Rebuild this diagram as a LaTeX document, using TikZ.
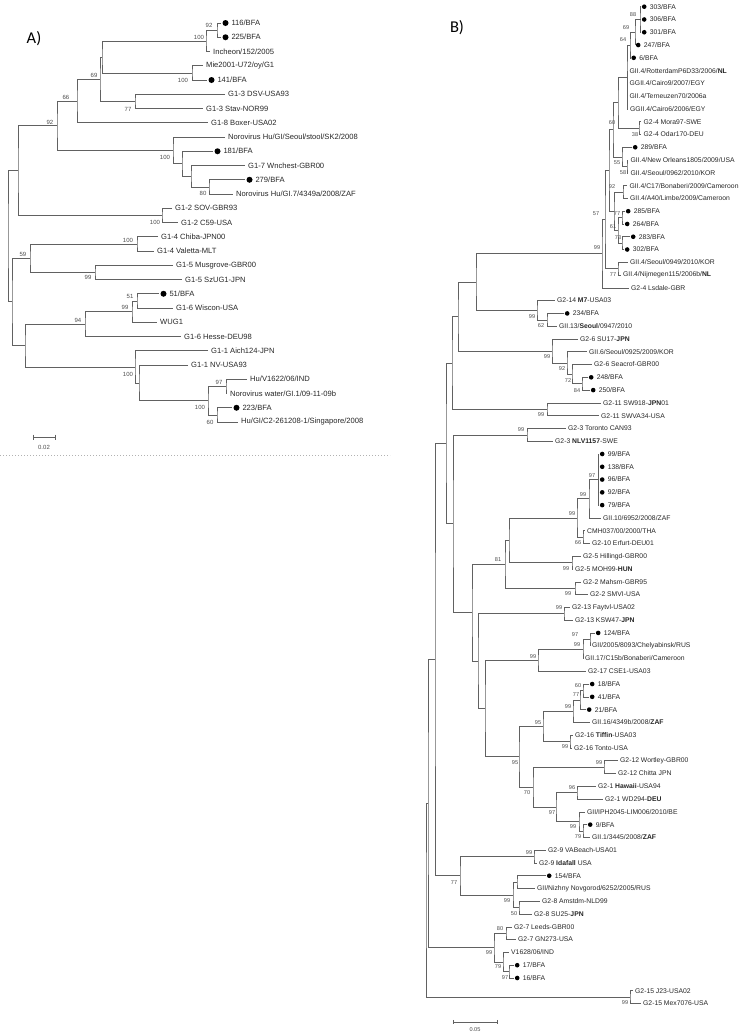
\documentclass[tikz,border=0pt]{standalone}
\usepackage{fontspec}
\setmainfont{Liberation Sans}
\newfontfamily\carlito{Carlito}
\usetikzlibrary{calc}

\newcommand{\fA}{\fontsize{7.6}{8}\selectfont}
\newcommand{\fB}{\fontsize{6.8}{7}\selectfont}
\newcommand{\leaf}[4]{\coordinate (#1) at (#2,#3); \node[lbl] (#1t) at (#1) {#4};}
\newcommand{\bfa}[4]{\coordinate (#1) at (#2,#3); \node[dot] (#1d) at (#1) {}; \node[lbl,dotlbl] (#1t) at (#1d.east) {#4};}
\newcommand{\clade}[4]{\path let \p1=($(#3)!.5!(#4)$) in (#2pt,\y1) coordinate (#1); \draw[br] (#3) -| (#1) |- (#4);}

\tikzset{
  br/.style={draw=black!62, line width=0.55pt},
  panel/.style={font=\carlito\fontsize{16.5}{18}\selectfont, inner sep=0pt},
  sep/.style={draw=black!30, line width=0.5pt, dash pattern=on 1.2pt off 1.8pt}
}

\begin{document}
\begin{tikzpicture}[x=1pt,y=-1pt]
\useasboundingbox (0,0) rectangle (744,1034);

\node[panel] (labA) at (34,38.5) {A)};
\node[panel] (labB) at (457,28) {B)};

\begin{scope}[lbl/.style={anchor=west, inner ysep=0.5pt, inner xsep=3pt, font=\fA, text=black!85},
  dot/.style={circle, fill=black, inner sep=0pt, minimum size=6pt, xshift=4.5pt},
  dotlbl/.style={inner xsep=2.6pt},
  bs/.style={font=\fontsize{6}{6}\selectfont, text=black!70, inner sep=0pt}]
\bfa{A1}{221}{23}{116/BFA}
\bfa{A2}{221}{37.25}{225/BFA}
\leaf{A3}{210}{51.5}{Incheon/152/2005}
\leaf{A4}{203}{65.75}{Mie2001-U72/oy/G1}
\bfa{A5}{207}{80}{141/BFA}
\leaf{A6}{225}{94.25}{G1-3 DSV-USA93}
\leaf{A7}{203}{108.5}{G1-3 Stav-NOR99}
\leaf{A8}{208}{122.75}{G1-8 Boxer-USA02}
\leaf{A9}{225}{137}{Norovirus Hu/GI/Seoul/stool/SK2/2008}
\bfa{A10}{213}{151.25}{181/BFA}
\leaf{A11}{245}{165.5}{G1-7 Wnchest-GBR00}
\bfa{A12}{245}{179.75}{279/BFA}
\leaf{A13}{233}{194}{Norovirus Hu/GI.7/4349a/2008/ZAF}
\leaf{A14}{172}{208.25}{G1-2 SOV-GBR93}
\leaf{A15}{178}{222.5}{G1-2 C59-USA}
\leaf{A16}{158}{236.75}{G1-4 Chiba-JPN00}
\leaf{A17}{154}{251}{G1-4 Valetta-MLT}
\leaf{A18}{173}{265.25}{G1-5 Musgrove-GBR00}
\leaf{A19}{182}{279.5}{G1-5 SzUG1-JPN}
\bfa{A20}{159}{293.75}{51/BFA}
\leaf{A21}{173}{308}{G1-6 Wiscon-USA}
\leaf{A22}{157}{322.25}{WUG1}
\leaf{A23}{181}{336.5}{G1-6 Hesse-DEU98}
\leaf{A24}{208}{350.75}{G1-1 Aich124-JPN}
\leaf{A25}{188}{365}{G1-1 NV-USA93}
\leaf{A26}{247}{379.25}{Hu/V1622/06/IND}
\leaf{A27}{227}{393.5}{Norovirus water/GI.1/09-11-09b}
\bfa{A28}{232}{407.75}{223/BFA}
\leaf{A29}{238}{422}{Hu/GI/C2-261208-1/Singapore/2008}

\clade{n92a}{217}{A1}{A2}
\clade{n100a}{206}{n92a}{A3}
\clade{n100b}{192}{A4}{A5}
\clade{nXa}{102}{n100a}{n100b}
\clade{n77a}{135}{A6}{A7}
\clade{n69a}{100}{nXa}{n77a}
\clade{n66a}{77}{n69a}{A8}
\clade{n80a}{209}{A12}{A13}
\clade{nRa}{191}{A11}{n80a}
\clade{nQa}{182}{A10}{nRa}
\clade{n100c}{173}{A9}{nQa}
\clade{n92b}{57}{n66a}{n100c}
\clade{n100d}{162}{A14}{A15}
\clade{nTopA}{18}{n92b}{n100d}
\clade{n100e}{137}{A16}{A17}
\clade{n99a}{95}{A18}{A19}
\clade{n59a}{30}{n100e}{n99a}
\clade{n51a}{137}{A20}{A21}
\clade{n99b}{132}{n51a}{A22}
\clade{n94a}{85}{n99b}{A23}
\clade{n97a}{226}{A26}{A27}
\clade{n60a}{217}{A28}{A29}
\clade{n100f}{208}{n97a}{n60a}
\clade{nNVa}{139}{A25}{n100f}
\clade{n100g}{135}{A24}{nNVa}
\clade{nLowA}{25}{n94a}{n100g}
\clade{nMidA}{12}{n59a}{nLowA}
\clade{nRootA}{8}{nTopA}{nMidA}

\foreach \x/\y/\v [count=\i] in {209/25/92, 199/37/100, 183/80/100, 94/75/69, 128/109/77,
  66/97/66, 50/122/92, 165/157/100, 203/193/80, 155/222/100, 128/240/100, 23/254/59,
  88/277/99, 130/296/51, 125/307/99, 78/320/94, 128/374/100, 219/382/97, 200/407/100, 210/422/60}
  \node[bs] (sA\i) at (\x,\y) {\v};

\coordinate (scA1) at (33,437);
\coordinate (scA2) at (55,437);
\draw[br] (scA1) -- (scA2);
\draw[br] ([yshift=2.5pt]scA1) -- ([yshift=-2.5pt]scA1);
\draw[br] ([yshift=2.5pt]scA2) -- ([yshift=-2.5pt]scA2);
\node[bs] (scAt) at (44,447) {0.02};
\end{scope}

\coordinate (sepL) at (0,455);
\coordinate (sepR) at (390,455);
\draw[sep] (sepL) -- (sepR);

\begin{scope}[lbl/.style={anchor=west, inner ysep=0.5pt, inner xsep=2.5pt, font=\fB, text=black!85},
  dot/.style={circle, fill=black, inner sep=0pt, minimum size=4.6pt, xshift=3.2pt},
  dotlbl/.style={inner xsep=3pt},
  bs/.style={font=\fontsize{5.6}{6}\selectfont, text=black!70, inner sep=0pt}]
\bfa{B1}{641}{6.7}{303/BFA}
\bfa{B2}{641}{19.48}{306/BFA}
\bfa{B3}{641}{32.26}{301/BFA}
\bfa{B4}{635}{45.04}{247/BFA}
\bfa{B5}{630.5}{57.82}{6/BFA}
\leaf{B6}{627}{70.6}{GII.4/RotterdamP6D33/2006/\textbf{NL}}
\leaf{B7}{627}{83.38}{GGII.4/Cairo9/2007/EGY}
\leaf{B8}{627}{96.16}{GII.4/Terneuzen70/2006a}
\leaf{B9}{627.5}{108.94}{GGII.4/Cairo6/2006/EGY}
\leaf{B10}{641}{121.72}{G2-4 Mora97-SWE}
\leaf{B11}{641}{134.5}{G2-4 Odar170-DEU}
\bfa{B12}{632}{147.28}{289/BFA}
\leaf{B13}{628}{160.06}{GII.4/New Orleans1805/2009/USA}
\leaf{B14}{628}{172.84}{GII.4/Seoul/0962/2010/KOR}
\leaf{B15}{627}{185.62}{GII.4/C17/Bonaberi/2009/Cameroon}
\leaf{B16}{627.5}{198.4}{GII.4/A40/Limbe/2009/Cameroon}
\bfa{B17}{625}{211.18}{285/BFA}
\bfa{B18}{624}{223.96}{264/BFA}
\bfa{B19}{630}{236.74}{283/BFA}
\bfa{B20}{624}{249.52}{302/BFA}
\leaf{B21}{627.5}{262.3}{GII.4/Seoul/0949/2010/KOR}
\leaf{B22}{620.5}{275.08}{GII.4/Nijmegen115/2006b/\textbf{NL}}
\leaf{B23}{628.5}{287.86}{G2-4 Lsdale-GBR}
\leaf{B24}{554.5}{300.64}{G2-14 \textbf{M7}-USA03}
\bfa{B25}{564}{313.42}{234/BFA}
\leaf{B26}{556.5}{326.2}{GII.13/\textbf{Seoul}/0947/2010}
\leaf{B27}{577.5}{338.98}{G2-6 SU17-\textbf{JPN}}
\leaf{B28}{586.5}{351.76}{GII.6/Seoul/0925/2009/KOR}
\leaf{B29}{591.5}{364.54}{G2-6 Seacrof-GBR00}
\bfa{B30}{588}{377.32}{248/BFA}
\bfa{B31}{590}{390.1}{250/BFA}
\leaf{B32}{600.5}{402.88}{G2-11 SW918-\textbf{JPN}01}
\leaf{B33}{598.5}{415.66}{G2-11 SWVA34-USA}
\leaf{B34}{565.5}{428.44}{G2-3 Toronto CAN93}
\leaf{B35}{552.5}{441.22}{G2-3 \textbf{NLV1157}-SWE}
\bfa{B36}{599}{454}{99/BFA}
\bfa{B37}{599}{466.78}{138/BFA}
\bfa{B38}{599}{479.56}{96/BFA}
\bfa{B39}{599}{492.34}{92/BFA}
\bfa{B40}{599}{505.12}{79/BFA}
\leaf{B41}{600.5}{517.9}{GII.10/6952/2008/ZAF}
\leaf{B42}{584.5}{530.68}{CMH037/00/2000/THA}
\leaf{B43}{589.5}{543.46}{G2-10 Erfurt-DEU01}
\leaf{B44}{580.5}{556.24}{G2-5 Hillingd-GBR00}
\leaf{B45}{572.5}{569.02}{G2-5 MOH99-\textbf{HUN}}
\leaf{B46}{580.5}{581.8}{G2-2 Mahsm-GBR95}
\leaf{B47}{587.5}{594.58}{G2-2 SMVI-USA}
\leaf{B48}{569.5}{607.36}{G2-13 Faytvl-USA02}
\leaf{B49}{572.5}{620.14}{G2-13 KSW47-\textbf{JPN}}
\bfa{B50}{595}{632.92}{124/BFA}
\leaf{B51}{589.5}{645.7}{GII/2005/8093/Chelyabinsk/RUS}
\leaf{B52}{582.5}{658.48}{GII.17/C15b/Bonaberi/Cameroon}
\leaf{B53}{585.5}{671.26}{G2-17 CSE1-USA03}
\bfa{B54}{589}{684.04}{18/BFA}
\bfa{B55}{589}{696.82}{41/BFA}
\bfa{B56}{586}{709.6}{21/BFA}
\leaf{B57}{589.5}{722.38}{GII.16/4349b/2008/\textbf{ZAF}}
\leaf{B58}{572.5}{735.16}{G2-16 \textbf{Tiffin}-USA03}
\leaf{B59}{571.5}{747.94}{G2-16 Tonto-USA}
\leaf{B60}{617.5}{760.72}{G2-12 Wortley-GBR00}
\leaf{B61}{615.5}{773.5}{G2-12 Chitta JPN}
\leaf{B62}{595.5}{786.28}{G2-1 \textbf{Hawaii}-USA94}
\leaf{B63}{602.5}{799.06}{G2-1 WD294-\textbf{DEU}}
\leaf{B64}{584.5}{811.84}{GII/IPH2045-LIM006/2010/BE}
\bfa{B65}{587}{824.62}{9/BFA}
\leaf{B66}{589.5}{837.4}{GII.1/3445/2008/\textbf{ZAF}}
\leaf{B67}{545.5}{850.18}{G2-9 VABeach-USA01}
\leaf{B68}{536.5}{862.96}{G2-9 \textbf{Idafall} USA}
\bfa{B69}{546}{875.74}{154/BFA}
\leaf{B70}{534.5}{888.52}{GII/Nizhny Novgorod/6252/2005/RUS}
\leaf{B71}{539.5}{901.3}{G2-8 Amstdm-NLD99}
\leaf{B72}{531.5}{914.08}{G2-8 SU25-\textbf{JPN}}
\leaf{B73}{511.5}{926.86}{G2-7 Leeds-GBR00}
\leaf{B74}{515.5}{939.64}{G2-7 GN273-USA}
\leaf{B75}{508.5}{952.42}{V1628/06/IND}
\bfa{B76}{514}{965.2}{17/BFA}
\bfa{B77}{514}{977.98}{16/BFA}
\leaf{B78}{632.5}{990.76}{G2-15 J23-USA02}
\leaf{B79}{640.5}{1003.54}{G2-15 Mex7076-USA}

% GII.4
\clade{b88}{640}{B1}{B3}
\draw[br] (b88) |- (B2);
\clade{b69}{635}{b88}{B4}
\clade{b64}{630}{b69}{B5}
\clade{bM}{627}{b64}{B9}
\draw[br] (bM) |- (B6) (bM) |- (B7) (bM) |- (B8);
\clade{b38}{639}{B10}{B11}
\clade{bE}{618}{bM}{b38}
\clade{b58}{627}{B13}{B14}
\clade{b55}{622}{B12}{b58}
\clade{b60}{613}{bE}{b55}
\clade{b92}{623}{B15}{B16}
\clade{b77a}{622}{B17}{B18}
\clade{b73}{622}{B19}{B20}
\clade{b61}{618}{b77a}{b73}
\clade{bC}{614}{b92}{b61}
\clade{bTop}{609}{b60}{bC}
\clade{b77b}{618}{B21}{B22}
\clade{b57}{605}{bTop}{b77b}
\clade{b99g4}{602}{b57}{B23}
% GII.14, GII.13, GII.6, GII.11
\clade{b62}{547}{B25}{B26}
\clade{b99m}{537}{B24}{b62}
\clade{bG414}{476}{b99g4}{b99m}
\clade{b84}{582}{B30}{B31}
\clade{b72}{572}{B29}{b84}
\clade{b92s}{567}{B28}{b72}
\clade{b99s}{552}{B27}{b92s}
\clade{bGA}{458}{bG414}{b99s}
\clade{b99sw}{547}{B32}{B33}
\clade{bGB}{452}{bGA}{b99sw}
% GII.3 to GII.1
\clade{b99t}{527}{B34}{B35}
\clade{b97m}{598}{B36}{B40}
\draw[br] (b97m) |- (B37) (b97m) |- (B38) (b97m) |- (B39);
\clade{b99x}{589}{b97m}{B41}
\clade{b66}{583}{B42}{B43}
\clade{b99y}{577}{b99x}{b66}
\clade{b99h}{572}{B44}{B45}
\clade{bK}{509}{b99y}{b99h}
\clade{b99mh}{575}{B46}{B47}
\clade{b81}{505}{bK}{b99mh}
\clade{b99f}{564}{B48}{B49}
\clade{b97c}{590}{B50}{B51}
\clade{b99c}{583}{b97c}{B52}
\clade{b99cs}{538}{b99c}{B53}
\clade{b60b}{583}{B54}{B55}
\clade{b77c}{580}{b60b}{B56}
\clade{b99z}{573}{b77c}{B57}
\clade{b99tf}{570}{B58}{B59}
\clade{b95a}{543}{b99z}{b99tf}
\clade{b99w}{604}{B60}{B61}
\clade{b96}{577}{B62}{B63}
\clade{b79}{583}{B65}{B66}
\clade{b99i}{579}{B64}{b79}
\clade{b97d}{556}{b96}{b99i}
\clade{b70}{533}{b99w}{b97d}
\clade{b95b}{519}{b95a}{b70}
\clade{bL}{485}{b99cs}{b95b}
\clade{bI}{478}{b99f}{bL}
\clade{bH}{472}{b81}{bI}
\clade{bGD}{453}{b99t}{bH}
\clade{bGC}{446}{bGB}{bGD}
% GII.9, GII.8, GII.7, GII.15
\clade{b99v}{534}{B67}{B68}
\clade{b154}{517}{B69}{B70}
\clade{b50}{519}{B71}{B72}
\clade{b99n}{513}{b154}{b50}
\clade{b77d}{460}{b99v}{b99n}
\clade{bP}{435}{bGC}{b77d}
\clade{b80}{506}{B73}{B74}
\clade{b97e}{509}{B76}{B77}
\clade{b79b}{503}{B75}{b97e}
\clade{b99l}{494}{b80}{b79b}
\clade{bQ}{428}{bP}{b99l}
\clade{b99j}{630}{B78}{B79}
\clade{bRoot}{426}{bQ}{b99j}

\foreach \x/\y/\v [count=\i] in {633/15/88, 626/28/69, 623/40/64, 612/123/60, 635/135/38,
  617/163/55, 623/173/58, 612/187/92, 596/214/57, 617/214/77, 613/227/61, 618/238/73,
  597/248/99, 613/275/77, 532/317/99, 541/326/62, 547/357/99, 562/369/92, 568/381/72,
  577/391/84, 541/415/99, 521/430/99, 592/476/97, 583/495/99, 572/514/99, 578/543/66,
  498/560/81, 566/569/99, 568/594/99, 559/608/99, 575/635/97, 577/645/99, 533/657/99,
  578/686/60, 576/695/77, 568/707/99, 538/723/95, 565/747/99, 515/763/95, 599/763/99,
  572/788/96, 527/793/70, 552/813/97, 573/827/99, 578/837/79, 529/853/99, 454/883/77,
  507/901/99, 514/914/50, 500/929/80, 489/953/99, 498/967/79, 505/978/97, 625/1003/99}
  \node[bs] (sB\i) at (\x,\y) {\v};

\coordinate (scB1) at (453,1022);
\coordinate (scB2) at (497,1022);
\draw[br] (scB1) -- (scB2);
\draw[br] ([yshift=2.2pt]scB1) -- ([yshift=-2.2pt]scB1);
\draw[br] ([yshift=2.2pt]scB2) -- ([yshift=-2.2pt]scB2);
\node[bs] (scBt) at (475,1030) {0.05};
\end{scope}
\end{tikzpicture}
\end{document}
